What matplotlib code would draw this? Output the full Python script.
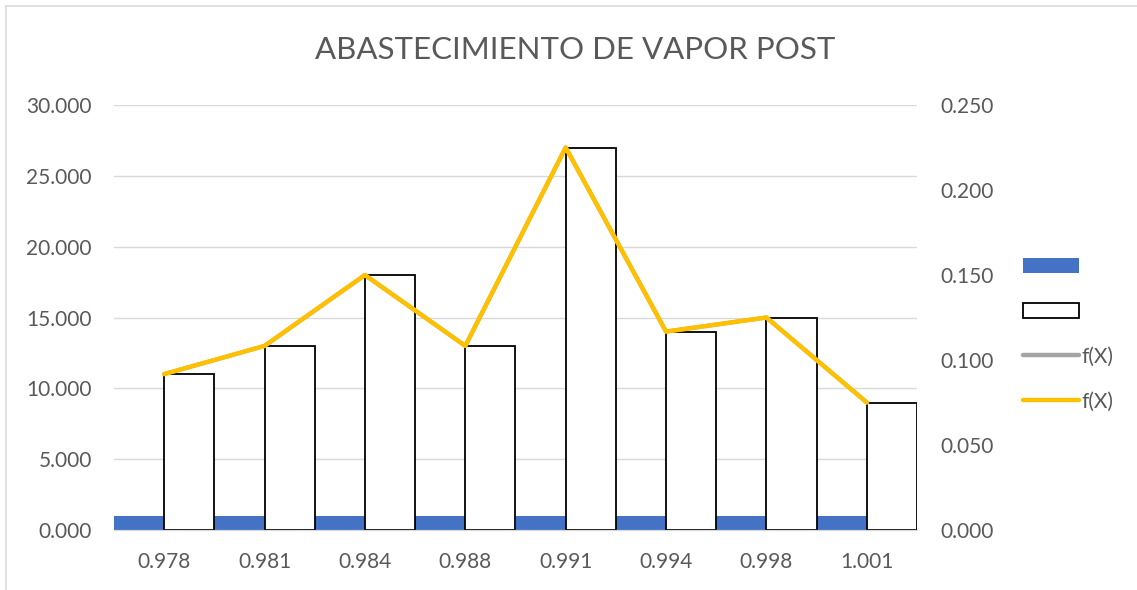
import matplotlib
matplotlib.use("Agg")
import matplotlib.pyplot as plt
from matplotlib.patches import Patch
from matplotlib.lines import Line2D
from matplotlib.ticker import FuncFormatter, MultipleLocator
import numpy as np

plt.rcParams['font.family'] = ['Lato', 'DejaVu Sans']

categories = ["0.978", "0.981", "0.984", "0.988", "0.991", "0.994", "0.998", "1.001"]
class_marks = [0.978, 0.981, 0.984, 0.988, 0.991, 0.994, 0.998, 1.001]
frequencies = [11, 13, 18, 13, 27, 14, 15, 9]
fx = [0.0917, 0.1083, 0.150, 0.1083, 0.225, 0.1167, 0.125, 0.075]

W, H = 1137, 590
fig = plt.figure(figsize=(W / 100, H / 100), dpi=100)
ax = fig.add_axes([114 / W, 1 - 530 / H, (917 - 114) / W, (530 - 105) / H])
ax2 = ax.twinx()

x = np.arange(len(categories))
bw = 0.5
ax.bar(x - bw / 2, class_marks, width=bw, color='#4472C4', zorder=2)
ax.bar(x + bw / 2, frequencies, width=bw, color='white', edgecolor='black', linewidth=1.3, zorder=2)

ax2.plot(x, fx, color='#A5A5A5', linewidth=3, solid_capstyle='round', zorder=3)
ax2.plot(x, fx, color='#FFC000', linewidth=3.2, solid_capstyle='round', zorder=4)

ax.set_xlim(-0.5, len(categories) - 0.5)
ax.set_ylim(0, 30)
ax2.set_ylim(0, 0.25)
ax.yaxis.set_major_locator(MultipleLocator(5))
ax2.yaxis.set_major_locator(MultipleLocator(0.05))
ax.yaxis.set_major_formatter(FuncFormatter(lambda v, p: f"{v:.3f}"))
ax2.yaxis.set_major_formatter(FuncFormatter(lambda v, p: f"{v:.3f}"))
ax.set_xticks(x)
ax.set_xticklabels(categories)

ax.grid(axis='y', color='#D9D9D9', linewidth=1, zorder=0)
ax.set_axisbelow(True)
for a in (ax, ax2):
    for s in ('top', 'left', 'right'):
        a.spines[s].set_visible(False)
    a.spines['bottom'].set_color('#D9D9D9')
    a.tick_params(length=0, labelsize=15, colors='#595959')
ax.tick_params(axis='x', pad=16)
ax.tick_params(axis='y', pad=16)
ax2.tick_params(axis='y', pad=17)

fig.text(575 / W, 1 - 50 / H, "ABASTECIMIENTO DE VAPOR POST", ha='center', va='center',
         fontsize=22.5, color='#595959')

handles = [Patch(facecolor='#4472C4', edgecolor='none'),
           Patch(facecolor='white', edgecolor='black', linewidth=1.3),
           Line2D([], [], color='#A5A5A5', linewidth=3.2, solid_capstyle='round'),
           Line2D([], [], color='#FFC000', linewidth=3.2, solid_capstyle='round')]
labels = ["", "", "f(X)", "f(X)"]
leg = fig.legend(handles, labels, loc='center left', bbox_to_anchor=(1013 / W, 1 - 334 / H),
                 frameon=False, fontsize=15, labelcolor='#595959', handlelength=2.65,
                 handleheight=0.7, labelspacing=1.2, handletextpad=0.15, borderpad=0)

fig.add_artist(Line2D([6 / W, 6 / W], [0, 1 - 6 / H], color='#D9D9D9', linewidth=1.2))
fig.add_artist(Line2D([6 / W, 1], [1 - 6 / H, 1 - 6 / H], color='#D9D9D9', linewidth=1.2))

fig.savefig("out.png", dpi=100)
